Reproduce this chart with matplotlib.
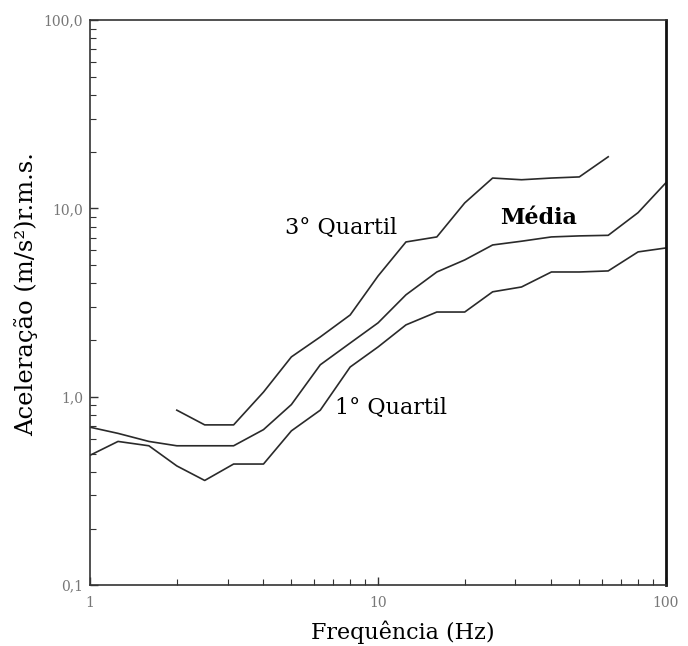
import matplotlib
matplotlib.use("Agg")
import matplotlib.pyplot as plt
from matplotlib.ticker import FixedLocator, LogLocator, NullFormatter

# 1/3-octave band centre frequencies (Hz)
freq = [1, 1.25, 1.6, 2, 2.5, 3.15, 4, 5, 6.3, 8, 10, 12.5, 16, 20, 25, 31.5, 40, 50, 63, 80, 100]

# 1st quartile
q1 = [0.49, 0.58, 0.55, 0.43, 0.36, 0.44, 0.44, 0.66, 0.85, 1.44, 1.84, 2.41, 2.82, 2.82,
      3.61, 3.83, 4.6, 4.6, 4.66, 5.88, 6.17]
# mean
media = [0.69, 0.64, 0.58, 0.55, 0.55, 0.55, 0.67, 0.91, 1.48, 1.93, 2.47, 3.48, 4.6, 5.33,
         6.4, 6.7, 7.06, 7.15, 7.2, 9.5, 13.7]
# 3rd quartile (starts at 2 Hz, ends at 63 Hz)
freq_q3 = [2, 2.5, 3.15, 4, 5, 6.3, 8, 10, 12.5, 16, 20, 25, 31.5, 40, 50, 63]
q3 = [0.85, 0.71, 0.71, 1.06, 1.63, 2.08, 2.72, 4.38, 6.64, 7.06, 10.7, 14.5, 14.2, 14.5, 14.7, 18.8]

y_ticks = [0.1, 1, 10, 100]
y_tick_labels = ["0,1", "1,0", "10,0", "100,0"]
x_ticks = [1, 10, 100]
x_tick_labels = ["1", "10", "100"]

fig = plt.figure(figsize=(6.88, 6.46), dpi=100)
ax = fig.add_axes([0.131, 0.094, 0.837, 0.875])
serif = ["DejaVu Serif"]

ax.plot(freq, q1, color="#2a2a2a", lw=1.2)
ax.plot(freq, media, color="#2a2a2a", lw=1.2)
ax.plot(freq_q3, q3, color="#2a2a2a", lw=1.2)

ax.set_xscale("log")
ax.set_yscale("log")
ax.set_xlim(1, 100)
ax.set_ylim(0.1, 100)

ax.xaxis.set_major_locator(FixedLocator(x_ticks))
ax.yaxis.set_major_locator(FixedLocator(y_ticks))
ax.set_xticklabels(x_tick_labels)
ax.set_yticklabels(y_tick_labels)
ax.xaxis.set_minor_locator(LogLocator(base=10, subs=range(2, 10)))
ax.yaxis.set_minor_locator(LogLocator(base=10, subs=range(2, 10)))
ax.xaxis.set_minor_formatter(NullFormatter())
ax.yaxis.set_minor_formatter(NullFormatter())

ax.tick_params(which="both", direction="in", top=False, right=False, color="#333333")
ax.tick_params(which="major", length=6, width=1.0, labelsize=10, labelcolor="#777777")
ax.tick_params(which="minor", length=4, width=0.8)
ax.tick_params(axis="x", pad=8)
ax.tick_params(axis="y", pad=5)
for lab in ax.get_xticklabels() + ax.get_yticklabels():
    lab.set_family(serif)

for s in ["left", "bottom", "top"]:
    ax.spines[s].set_linewidth(1.2)
    ax.spines[s].set_color("#333333")
ax.spines["right"].set_linewidth(2.0)
ax.spines["right"].set_color("#111111")

ax.set_xlabel("Frequência (Hz)", fontsize=16, family=serif)
ax.set_ylabel("Aceleração (m/s²)r.m.s.", fontsize=17.5, family=serif)
ax.xaxis.set_label_coords(0.543, -0.062)
ax.yaxis.set_label_coords(-0.09, 0.515)

ax.text(4.75, 7.9, "3° Quartil", fontsize=16, family=serif, ha="left", va="center")
ax.text(26.5, 8.9, "Média", fontsize=16, family=serif, ha="left", va="center", fontweight="semibold")
ax.text(7.1, 0.875, "1° Quartil", fontsize=16, family=serif, ha="left", va="center")

fig.savefig("out.png", dpi=100)
